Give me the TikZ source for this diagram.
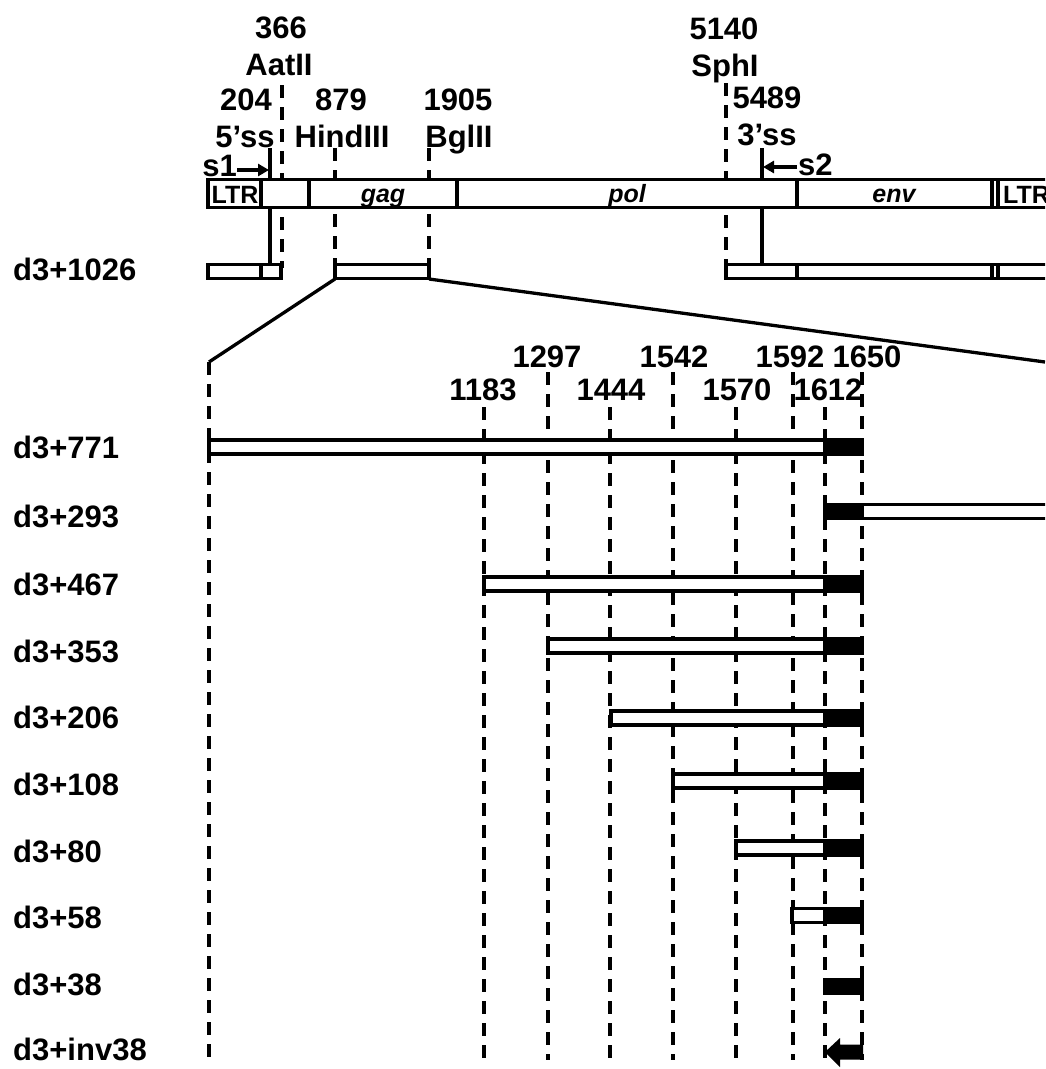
\documentclass[tikz,border=0pt]{standalone}
\usepackage{fontspec}
\setmainfont{Liberation Sans}
\usetikzlibrary{arrows.meta}
\begin{document}
\begin{tikzpicture}[x=1pt,y=-1pt,
  lbl/.style={font=\bfseries\fontsize{31}{36}\selectfont, inner sep=0pt, anchor=base},
  rowlbl/.style={font=\bfseries\fontsize{31}{36}\selectfont, inner sep=0pt, anchor=base west},
  barlbl/.style={font=\bfseries\fontsize{25}{28}\selectfont, inner sep=0pt, anchor=base},
  dline/.style={line width=3.3pt, dash pattern=on 13pt off 9pt},
  sline/.style={line width=3.3pt},
  wbox/.style={line width=3.2pt, draw=black, fill=white},
  bbox/.style={line width=3.2pt, draw=black, fill=black},
  sarrow/.style={line width=3.3pt, -{Triangle[length=11pt,width=12pt]}},
]
\useasboundingbox (0,0) rectangle (1045,1069);
\clip (0,0) rectangle (1045,1069);

% ---------- top labels ----------
\node[lbl] (t366) at (281,38) {366};
\node[lbl] (taat) at (279,75) {AatII};
\node[lbl] (t204) at (246,110) {204};
\node[lbl] (t5ss) at (245,147) {5’ss};
\node[lbl] (t879) at (341,110) {879};
\node[lbl] (thind) at (342,147) {HindIII};
\node[lbl] (t1905) at (458,110) {1905};
\node[lbl] (tbgl) at (459,147) {BglII};
\node[lbl] (t5140) at (724,39) {5140};
\node[lbl] (tsph) at (725,76) {SphI};
\node[lbl] (t5489) at (767,108) {5489};
\node[lbl] (t3ss) at (767,145) {3’ss};
\node[lbl, anchor=base east] (ts1) at (237,176) {s1};
\node[lbl, anchor=base west] (ts2) at (798,175) {s2};

% ---------- site lines (behind bars) ----------
\coordinate (aatT) at (282,85);  \coordinate (aatB) at (282,268);
\coordinate (ssT) at (270,148);  \coordinate (ssB) at (270,264);
\coordinate (hinT) at (335,148); \coordinate (hinB) at (335,264);
\coordinate (bglT) at (429,148); \coordinate (bglB) at (429,264);
\coordinate (sphT) at (726,83);  \coordinate (sphB) at (726,264);
\coordinate (s3T) at (762,148);  \coordinate (s3B) at (762,264);
\draw[dline] (aatT) -- (aatB);
\draw[dline] (hinT) -- (hinB);
\draw[dline] (bglT) -- (bglB);
\draw[dline] (sphT) -- (sphB);
\draw[sline] (ssT) -- (ssB);
\draw[sline] (s3T) -- (s3B);

% splice arrows
\coordinate (s1a) at (237,170); \coordinate (s1b) at (269,170);
\coordinate (s2a) at (797,167); \coordinate (s2b) at (763,167);
\draw[sarrow] (s1a) -- (s1b);
\draw[sarrow] (s2a) -- (s2b);

% ---------- genome bar ----------
\draw[wbox] (208,179.5) rectangle (1070,207.5);
\foreach \xx in {261,309,457,797,992,998}
  \draw[line width=3.2pt] (\xx,179.5) -- (\xx,207.5);
\node[barlbl] (gltr1) at (235,203) {LTR};
\node[barlbl] (ggag) at (383,202) {\itshape gag};
\node[barlbl] (gpol) at (627,202) {\itshape pol};
\node[barlbl] (genv) at (894,202) {\itshape env};
\node[barlbl, anchor=base west] (gltr2) at (1003,203) {LTR};

% ---------- d3+1026 ----------
\node[rowlbl] (r1026) at (13,280) {d3+1026};
\draw[wbox] (208,264.5) rectangle (261,278.5);
\draw[wbox] (261,264.5) rectangle (281,278.5);
\draw[wbox] (335,264.5) rectangle (429,278.5);
\draw[wbox] (726,264.5) rectangle (797,278.5);
\draw[wbox] (797,264.5) rectangle (992,278.5);
\draw[wbox] (992,264.5) rectangle (998,278.5);
\draw[wbox] (998,264.5) rectangle (1070,278.5);

% zoom lines
\coordinate (zl1) at (335,279); \coordinate (zl2) at (209,362);
\coordinate (zr1) at (429,279); \coordinate (zr2) at (1045,362);
\draw[sline] (zl1) -- (zl2);
\draw[sline] (zr1) -- (zr2);

% ---------- lower labels ----------
\node[lbl] (n1297) at (547,367) {1297};
\node[lbl] (n1542) at (674,367) {1542};
\node[lbl] (n1592) at (790,367) {1592};
\node[lbl] (n1650) at (867,367) {1650};
\node[lbl] (n1183) at (483,400) {1183};
\node[lbl] (n1444) at (611,400) {1444};
\node[lbl] (n1570) at (737,400) {1570};
\node[lbl] (n1612) at (828,400) {1612};

% lower dashed lines
\draw[dline] (zl2) -- (209,1060);
\foreach \xx/\yy in {484/407,548/372,610/407,673/372,736/407,793/372,825/407,862/372}
  \draw[dline] (\xx,\yy) -- (\xx,1060);

% ---------- deletion rows ----------
\node[rowlbl] (r771) at (13,458) {d3+771};
\node[rowlbl] (r293) at (13,527) {d3+293};
\node[rowlbl] (r467) at (13,595) {d3+467};
\node[rowlbl] (r353) at (13,662) {d3+353};
\node[rowlbl] (r206) at (13,728) {d3+206};
\node[rowlbl] (r108) at (13,795) {d3+108};
\node[rowlbl] (r80) at (13,862) {d3+80};
\node[rowlbl] (r58) at (13,928) {d3+58};
\node[rowlbl] (r38) at (13,995) {d3+38};
\node[rowlbl] (rinv) at (13,1060) {d3+inv38};

\foreach \xs/\cy in {209/447,484/584,548/646,611/718,673/781,736/848,792/915.5}{
  \draw[wbox] (\xs,\cy-7) rectangle (825,\cy+7);
  \draw[bbox] (825,\cy-7) rectangle (862,\cy+7);
}
% d3+293
\draw[bbox] (825,504.5) rectangle (862,518.5);
\draw[wbox] (862,504.5) rectangle (1070,518.5);
% d3+38
\draw[bbox] (825,979.5) rectangle (862,993.5);
% d3+inv38 arrow
\fill[black] (825,1052) -- (840,1038) -- (840,1044.5) -- (863,1044.5) -- (863,1059.5)
  -- (840,1059.5) -- (840,1067) -- cycle;
\end{tikzpicture}
\end{document}
